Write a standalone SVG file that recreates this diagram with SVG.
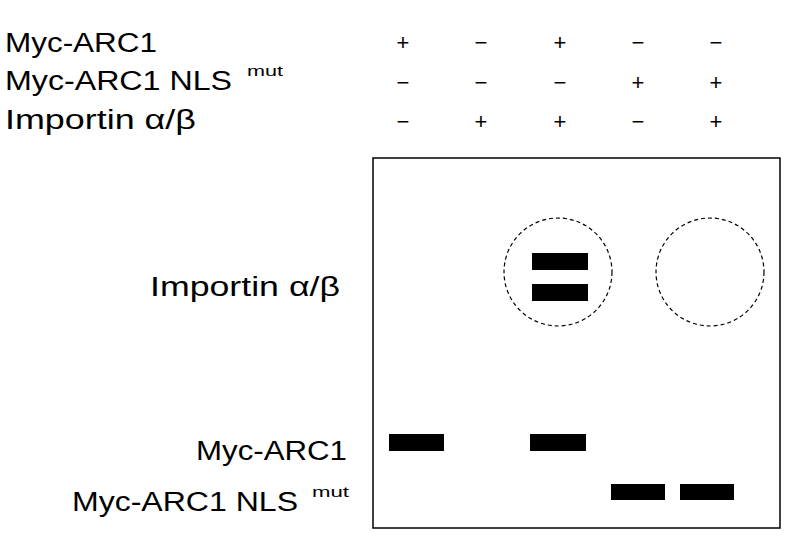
<svg xmlns="http://www.w3.org/2000/svg" width="786" height="544" viewBox="0 0 786 544">
<style>
text{font-family:"Liberation Sans",Arial,sans-serif;fill:#000}
.l{font-size:27px}
.s{font-size:15px}
.g{font-size:22px;text-anchor:middle}
.bar{fill:#000}
.c{fill:none;stroke:#000;stroke-width:1.2;stroke-dasharray:4 3}
</style>
<rect width="786" height="544" fill="#fff"/>
<g id="labels">
<text class="l" x="5" y="52" textLength="152" lengthAdjust="spacingAndGlyphs">Myc-ARC1</text>
<text class="l" x="5" y="90" textLength="227" lengthAdjust="spacingAndGlyphs">Myc-ARC1 NLS</text>
<text class="s" x="247" y="76" textLength="36" lengthAdjust="spacingAndGlyphs">mut</text>
<text class="l" x="5" y="129" textLength="191" lengthAdjust="spacingAndGlyphs">Importin α/β</text>
</g>
<g id="signs">
<text class="g" x="403" y="50">+</text><text class="g" x="481" y="50">−</text><text class="g" x="560" y="50">+</text><text class="g" x="638" y="50">−</text><text class="g" x="716" y="50">−</text>
<text class="g" x="403" y="90">−</text><text class="g" x="481" y="90">−</text><text class="g" x="560" y="90">−</text><text class="g" x="638" y="90">+</text><text class="g" x="716" y="90">+</text>
<text class="g" x="403" y="129">−</text><text class="g" x="481" y="129">+</text><text class="g" x="560" y="129">+</text><text class="g" x="638" y="129">−</text><text class="g" x="716" y="129">+</text>
</g>
<g id="blot">
<rect x="373" y="158" width="407" height="370" fill="none" stroke="#000" stroke-width="1.5"/>
<circle class="c" cx="558" cy="272" r="54"/>
<circle class="c" cx="710" cy="272" r="54"/>
<rect class="bar" x="532" y="253" width="56" height="17"/>
<rect class="bar" x="532" y="284" width="56" height="17"/>
<rect class="bar" x="389" y="434" width="55" height="17"/>
<rect class="bar" x="530" y="434" width="56" height="17"/>
<rect class="bar" x="611" y="484" width="54" height="16"/>
<rect class="bar" x="680" y="484" width="54" height="16"/>
</g>
<g id="bandlabels">
<text class="l" x="150" y="296" textLength="190" lengthAdjust="spacingAndGlyphs">Importin α/β</text>
<text class="l" x="196" y="460" textLength="151" lengthAdjust="spacingAndGlyphs">Myc-ARC1</text>
<text class="l" x="72" y="511" textLength="226" lengthAdjust="spacingAndGlyphs">Myc-ARC1 NLS</text>
<text class="s" x="312" y="497" textLength="37" lengthAdjust="spacingAndGlyphs">mut</text>
</g>
</svg>
